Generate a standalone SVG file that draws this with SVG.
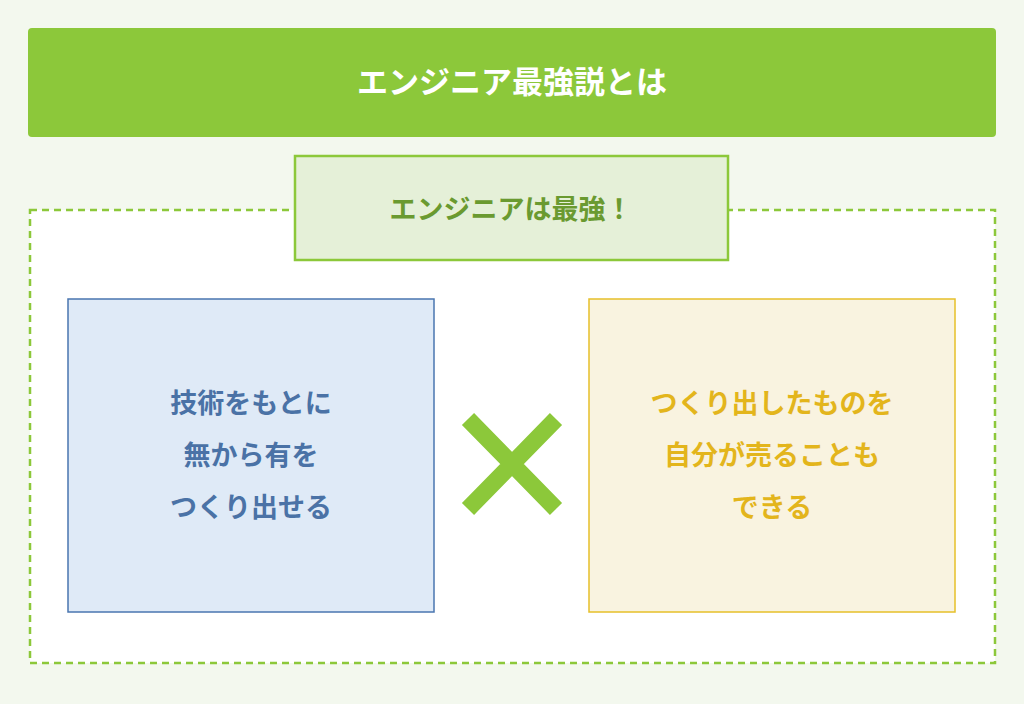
<svg xmlns="http://www.w3.org/2000/svg" width="1024" height="704" viewBox="0 0 1024 704">
<style>
text{font-family:"Noto Sans CJK JP","Noto Sans",sans-serif;font-weight:bold;text-anchor:middle}
.b{fill:#4a72a6;font-size:27px}
.y{fill:#e3b51c;font-size:27px}
</style>
<rect width="1024" height="704" fill="#f3f8ee"/>
<g id="header"><rect x="28" y="28" width="968" height="109" rx="4" fill="#8cc83a"/>
<text x="512" y="93" fill="#fff" font-size="31">エンジニア最強説とは</text></g>
<g id="frame"><rect x="30" y="210" width="965" height="453" fill="#fff" stroke="#8cc83a" stroke-width="2.5" stroke-dasharray="7,5"/></g>
<g id="label"><rect x="295" y="156" width="433" height="104" fill="#e5f0d8" stroke="#8cc83a" stroke-width="2.5"/>
<text x="511" y="219" fill="#6a9a30" font-size="27">エンジニアは最強！</text></g>
<g id="left"><rect x="68" y="299" width="366" height="313" fill="#dfeaf7" stroke="#4a76b0" stroke-width="1.5"/>
<text class="b" x="251" y="413">技術をもとに</text>
<text class="b" x="251" y="465">無から有を</text>
<text class="b" x="251" y="517">つくり出せる</text></g>
<g id="right"><rect x="589" y="299" width="366" height="313" fill="#f9f3e0" stroke="#e6c02a" stroke-width="1.5"/>
<text class="y" x="772" y="413">つくり出したものを</text>
<text class="y" x="772" y="465">自分が売ることも</text>
<text class="y" x="772" y="517">できる</text></g>
<g id="connectors"><path d="M468 419L556 509M556 419L468 509" stroke="#8cc83a" stroke-width="17"/></g>
</svg>
